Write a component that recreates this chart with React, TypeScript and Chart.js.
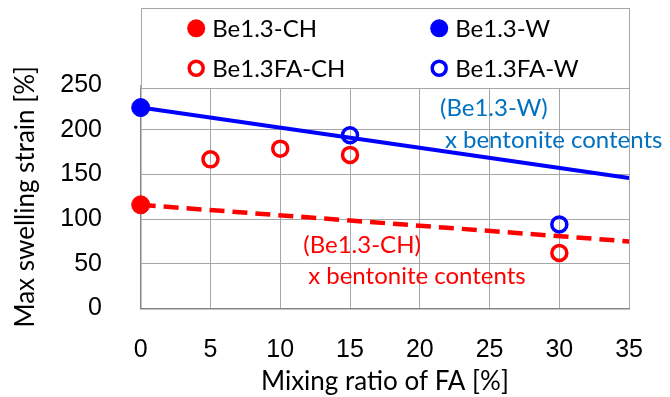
import React, { useEffect, useRef } from 'react';
import { Chart, registerables } from 'chart.js';

Chart.register(...registerables);

// ---- data ----
const xMin = 0;
const xMax = 35;
const xStep = 5;
const yMin = 0;
const yMax = 250;
const yStep = 50;

const be13ChX = [0];
const be13ChY = [116];
const be13WX = [0];
const be13WY = [225];
const be13FaChX = [5, 10, 15, 30];
const be13FaChY = [167, 179, 172, 62];
const be13FaWX = [15, 30];
const be13FaWY = [194, 94];

const trendX = [0, 35];
const trendWY = [225, 146];
const trendChY = [116, 75];

const seriesLabels = ['Be1.3-CH', 'Be1.3-W', 'Be1.3FA-CH', 'Be1.3FA-W'];
const xTitle = 'Mixing ratio of FA [%]';
const yTitle = 'Max swelling strain [%]';

const annotationTexts = ['(Be1.3-W)', 'x bentonite contents', '(Be1.3-CH)', 'x bentonite contents'];
const annotationX = [21.45, 21.8, 11.65, 12.0];
const annotationY = [224, 188, 71, 36];

// ---- styles ----
const RED = '#FF0000';
const BLUE = '#0000FF';
const ANN_BLUE = '#0070C0';
const GRID = '#A6A6A6';
const AXIS = '#868686';
const TEXT_FONT = 'Lato, "Open Sans", sans-serif';
const NUM_FONT = '"Liberation Sans", Arial, sans-serif';

const zip = (xs: number[], ys: number[]) => xs.map((x, i) => ({ x, y: ys[i] }));

const legendPlugin = {
  id: 'boxLegend',
  afterDraw(chart: any) {
    const { ctx, chartArea } = chart;
    const left = chartArea.left;
    const right = chartArea.right;
    const top = 8.3;
    const bottom = chartArea.top + 3;
    ctx.save();
    ctx.fillStyle = '#FFFFFF';
    ctx.fillRect(left, top, right - left, bottom - top);
    ctx.strokeStyle = GRID;
    ctx.lineWidth = 1;
    ctx.strokeRect(Math.round(left) + 0.5, Math.round(top) + 0.5, Math.round(right - left), Math.round(bottom - top));

    const cols = [left + 55.5, left + 298.5];
    const rows = [top + 20, top + 60];
    const ds = chart.data.datasets;
    for (let i = 0; i < 4; i++) {
      const d = ds[i];
      const cx = cols[i % 2];
      const cy = rows[Math.floor(i / 2)];
      ctx.beginPath();
      if (d.pointBackgroundColor !== 'transparent') {
        ctx.arc(cx, cy, 9, 0, Math.PI * 2);
        ctx.fillStyle = d.pointBackgroundColor;
        ctx.fill();
      } else {
        ctx.arc(cx, cy, 7, 0, Math.PI * 2);
        ctx.strokeStyle = d.pointBorderColor;
        ctx.lineWidth = 3.5;
        ctx.stroke();
      }
      ctx.fillStyle = '#000000';
      ctx.font = `24px ${TEXT_FONT}`;
      ctx.textAlign = 'left';
      ctx.textBaseline = 'middle';
      ctx.fillText(d.label, cx + 16, cy + 1);
    }
    ctx.restore();
  },
};

const annotationPlugin = {
  id: 'textNotes',
  afterDatasetsDraw(chart: any) {
    const { ctx, scales } = chart;
    ctx.save();
    ctx.font = `24px ${TEXT_FONT}`;
    ctx.textAlign = 'left';
    ctx.textBaseline = 'middle';
    annotationTexts.forEach((t, i) => {
      ctx.fillStyle = i < 2 ? ANN_BLUE : RED;
      ctx.fillText(t, scales.x.getPixelForValue(annotationX[i]), scales.y.getPixelForValue(annotationY[i]));
    });
    ctx.restore();
  },
};

export default function App() {
  const ref = useRef<HTMLCanvasElement | null>(null);

  useEffect(() => {
    if (!ref.current) return;
    const chart = new Chart(ref.current, {
      type: 'scatter',
      data: {
        datasets: [
          {
            label: seriesLabels[0],
            data: zip(be13ChX, be13ChY),
            pointBackgroundColor: RED,
            pointBorderColor: RED,
            pointRadius: 9,
            pointBorderWidth: 1,
            showLine: false,
            clip: false,
          },
          {
            label: seriesLabels[1],
            data: zip(be13WX, be13WY),
            pointBackgroundColor: BLUE,
            pointBorderColor: BLUE,
            pointRadius: 9,
            pointBorderWidth: 1,
            showLine: false,
            clip: false,
          },
          {
            label: seriesLabels[2],
            data: zip(be13FaChX, be13FaChY),
            pointBackgroundColor: 'transparent',
            pointBorderColor: RED,
            pointRadius: 7.5,
            pointBorderWidth: 3.5,
            showLine: false,
            clip: false,
          },
          {
            label: seriesLabels[3],
            data: zip(be13FaWX, be13FaWY),
            pointBackgroundColor: 'transparent',
            pointBorderColor: BLUE,
            pointRadius: 7.5,
            pointBorderWidth: 3.5,
            showLine: false,
            clip: false,
          },
          {
            label: 'W trend',
            data: zip(trendX, trendWY),
            showLine: true,
            borderColor: BLUE,
            borderWidth: 4,
            pointRadius: 0,
          },
          {
            label: 'CH trend',
            data: zip(trendX, trendChY),
            showLine: true,
            borderColor: RED,
            borderWidth: 4.5,
            borderDash: [15, 8],
            pointRadius: 0,
          },
        ],
      } as any,
      options: {
        responsive: false,
        animation: false,
        layout: { padding: { top: 85.3, right: 40.7, left: 0, bottom: 0 } },
        plugins: {
          legend: { display: false },
          tooltip: { enabled: false },
        },
        scales: {
          x: {
            type: 'linear',
            min: xMin,
            max: xMax,
            afterFit: (s: any) => {
              s.height = 88.7;
            },
            ticks: {
              stepSize: xStep,
              color: '#000000',
              font: { family: NUM_FONT, size: 25 },
              padding: 27,
            },
            grid: { color: GRID, lineWidth: 1, drawTicks: false },
            border: { color: AXIS, width: 1.5 },
            title: {
              display: true,
              text: xTitle,
              color: '#000000',
              font: { family: TEXT_FONT, size: 26 },
              padding: { top: 0, bottom: 0 },
            },
          },
          y: {
            type: 'linear',
            min: yMin,
            max: yMax,
            afterFit: (s: any) => {
              s.width = 140.7;
            },
            ticks: {
              stepSize: yStep,
              color: '#000000',
              font: { family: NUM_FONT, size: 25 },
              padding: 38.7,
            },
            grid: { color: GRID, lineWidth: 1, drawTicks: false },
            border: { color: AXIS, width: 1.5 },
            title: {
              display: true,
              text: yTitle,
              color: '#000000',
              font: { family: TEXT_FONT, size: 26 },
              padding: { top: 10.2, bottom: 0 },
            },
          },
        },
      } as any,
      plugins: [annotationPlugin, legendPlugin],
    });
    return () => chart.destroy();
  }, []);

  return (
    <div style={{ position: 'absolute', left: 0, top: 0, width: 670, height: 397, background: '#FFFFFF' }}>
      <canvas ref={ref} width={670} height={397} />
    </div>
  );
}
